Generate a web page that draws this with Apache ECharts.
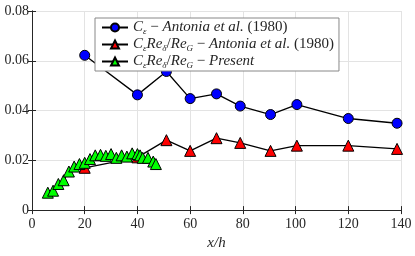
<!DOCTYPE html>
<html><head><meta charset="utf-8">
<script src="https://cdn.jsdelivr.net/npm/echarts@6/dist/echarts.min.js"></script>
<style>html,body{margin:0;padding:0;background:#fff}#c{width:415px;height:256px}</style>
</head><body><div id="c"></div>
<script>
const antX = [20, 40, 51, 60, 70, 79, 90.5, 100.5, 120, 138.5];
const cEps = [0.0622, 0.0463, 0.0557, 0.0448, 0.0467, 0.0418, 0.0384, 0.0424, 0.0368, 0.0349];
const cEpsRe = [0.0170, 0.0212, 0.0281, 0.0238, 0.0289, 0.0270, 0.0238, 0.0259, 0.0259, 0.0246];
const presX = [6, 8, 10, 12, 14, 16, 18, 20, 22, 24, 26, 28, 30, 32, 34, 36, 38, 40, 41, 42, 44, 46, 47];
const presY = [0.0070, 0.0078, 0.0105, 0.0120, 0.0155, 0.0175, 0.0185, 0.0190, 0.0205, 0.0220, 0.0222, 0.0218, 0.0225, 0.0210, 0.0220, 0.0215, 0.0228, 0.0225, 0.0220, 0.0210, 0.0210, 0.0195, 0.0185];
const xTicks = [0, 20, 40, 60, 80, 100, 120, 140];
const yTicks = [0, 0.02, 0.04, 0.06, 0.08];

const F = 'Liberation Serif';
const zip = (xs, ys) => xs.map((x, i) => [x, ys[i]]);
const names = ['s1', 's2', 's3'];
const labels = {
  s1: '{i|C}{s|ε}{n| − }{i|Antonia et al.}{n| (1980)}',
  s2: '{i|C}{s|ε}{i|Re}{s|δ}{n|/}{i|Re}{s|G}{n| − }{i|Antonia et al.}{n| (1980)}',
  s3: '{i|C}{s|ε}{i|Re}{s|δ}{n|/}{i|Re}{s|G}{n| − }{i|Present}'
};
const axisCommon = {
  axisLine: {show: true, lineStyle: {color: '#262626', width: 1}},
  axisTick: {show: true, inside: true, length: 4, lineStyle: {color: '#262626'}},
};
const chart = echarts.init(document.getElementById('c'));
chart.setOption({
  animation: false,
  grid: {left: 32, right: 14, top: 11, bottom: 42},
  legend: {
    left: 95, top: 18, orient: 'vertical', z: 10,
    backgroundColor: '#fff', borderColor: '#888', borderWidth: 1,
    padding: [1, 5, 1, 6], itemGap: 0, itemWidth: 26, itemHeight: 10,
    data: names,
    formatter: n => labels[n],
    textStyle: {
      fontFamily: F, fontSize: 15, color: '#262626', lineHeight: 17,
      rich: {
        i: {fontFamily: F, fontStyle: 'italic', fontSize: 15, lineHeight: 17, color: '#262626'},
        n: {fontFamily: F, fontSize: 15, lineHeight: 17, color: '#262626'},
        s: {fontFamily: F, fontStyle: 'italic', fontSize: 9, lineHeight: 17, color: '#262626', verticalAlign: 'bottom', padding: [6, 0, 0, 0]}
      }
    }
  },
  xAxis: [{
    type: 'value', min: 0, max: 140, interval: 20,
    ...axisCommon,
    splitLine: {show: true, lineStyle: {color: '#e3e3e3'}},
    axisLabel: {fontFamily: F, fontSize: 14, color: '#262626', margin: 7},
    name: 'x/h', nameLocation: 'middle', nameGap: 22,
    nameTextStyle: {fontFamily: F, fontStyle: 'italic', fontSize: 15, color: '#262626'}
  }, {
    type: 'value', min: 0, max: 140, interval: 20, position: 'top',
    ...axisCommon, axisLabel: {show: false}, splitLine: {show: false}
  }],
  yAxis: [{
    type: 'value', min: 0, max: 0.08, interval: 0.02,
    ...axisCommon,
    splitLine: {show: true, lineStyle: {color: '#e3e3e3'}},
    axisLabel: {fontFamily: F, fontSize: 14, color: '#262626', margin: 3,
      formatter: v => v === 0 ? '0' : v.toFixed(2)}
  }, {
    type: 'value', min: 0, max: 0.08, interval: 0.02, position: 'right',
    ...axisCommon, axisLabel: {show: false}, splitLine: {show: false}
  }],
  series: [
    {name: 's1', type: 'line', data: zip(antX, cEps), symbol: 'circle', symbolSize: 10,
     lineStyle: {color: '#000', width: 1.3}, itemStyle: {color: '#0000ff', borderColor: '#000', borderWidth: 1}, z: 3},
    {name: 's2', type: 'line', data: zip(antX, cEpsRe), symbol: 'triangle', symbolSize: 11,
     lineStyle: {color: '#000', width: 1.3}, itemStyle: {color: '#ff0000', borderColor: '#000', borderWidth: 1}, z: 3},
    {name: 's3', type: 'line', data: zip(presX, presY), symbol: 'triangle', symbolSize: 11,
     lineStyle: {color: '#000', width: 1.3}, itemStyle: {color: '#00ff00', borderColor: '#000', borderWidth: 1}, z: 4}
  ]
});
</script></body></html>
